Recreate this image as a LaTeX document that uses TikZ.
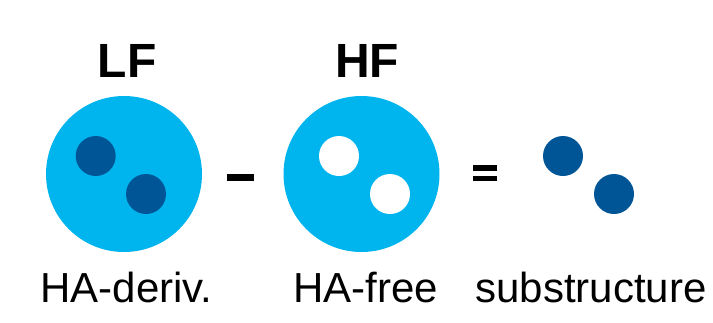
\documentclass[tikz,border=0pt]{standalone}
\usepackage{fontspec}
\setmainfont{Liberation Sans}
\definecolor{lightblue}{HTML}{00B4EE}
\definecolor{darkblue}{HTML}{005596}
\begin{document}
\begin{tikzpicture}[x=1pt,y=-1pt,
  big/.style={fill=lightblue},
  darkdot/.style={fill=darkblue},
  hole/.style={fill=white},
  head/.style={anchor=base,inner sep=0pt,font=\fontsize{48}{56}\selectfont\bfseries},
  lab/.style={anchor=base,inner sep=0pt,font=\fontsize{42}{50}\selectfont},
  op/.style={fill=black}]
\useasboundingbox (0,0) rectangle (713,322);
% headings
\node[head] (lf) at (127,77.5) {LF};
\node[head] (hf) at (367,77.5) {HF};
% big circles
\fill[big] (124,174) circle (78);
\fill[big] (361.5,174) circle (78);
% dark dots in LF
\fill[darkdot] (95.7,156) circle (20);
\fill[darkdot] (146,194) circle (20);
% holes in HF
\fill[hole] (339,156) circle (20);
\fill[hole] (390,194) circle (20);
% substructure dots
\fill[darkdot] (563,156) circle (20);
\fill[darkdot] (614,194) circle (20);
% minus and equals
\fill[op] (227,174) rectangle (254,181);
\fill[op] (473,165) rectangle (497,170.5);
\fill[op] (473,175.7) rectangle (497,181);
% labels
\node[lab] (l1) at (126.5,302) {HA-deriv.};
\node[lab] (l2) at (366,302) {HA-free};
\node[lab] (l3) at (591,302) {substructure};
\end{tikzpicture}
\end{document}
